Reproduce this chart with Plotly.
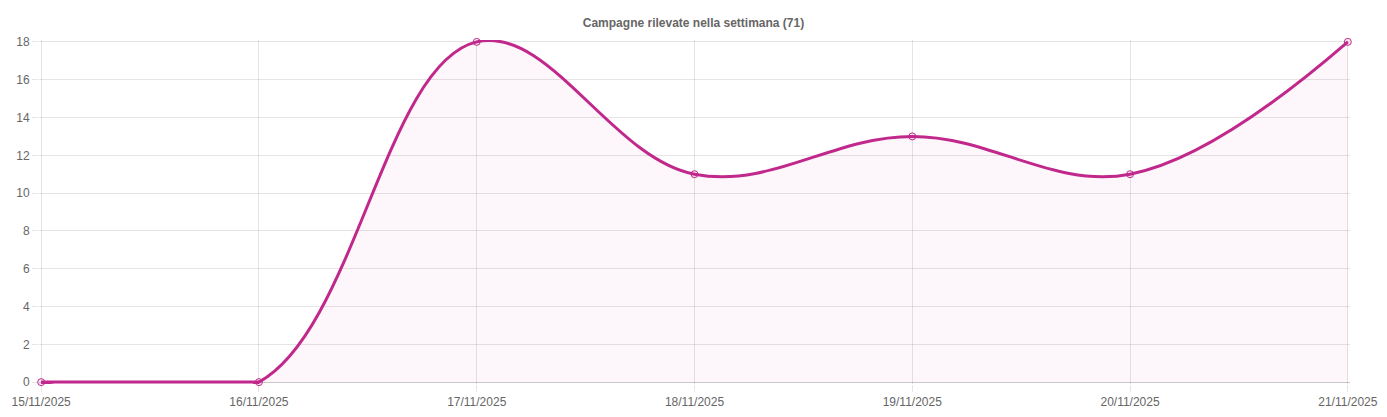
import plotly.graph_objects as go

dates = ["15/11/2025", "16/11/2025", "17/11/2025", "18/11/2025",
         "19/11/2025", "20/11/2025", "21/11/2025"]
campagne = [0, 0, 18, 11, 13, 11, 18]
y_ticks = [0, 2, 4, 6, 8, 10, 12, 14, 16, 18]
title_text = "Campagne rilevate nella settimana (%d)" % sum(campagne)

line_color = "#c1288b"
fill_color = "rgba(193,40,139,0.035)"
grid_color = "rgba(0,0,0,0.1)"
font_family = "Liberation Sans, Arial, Helvetica, sans-serif"

fig = go.Figure()
# smooth curve through every point
fig.add_trace(go.Scatter(
    x=dates, y=campagne,
    mode="lines",
    line=dict(color=line_color, width=3, shape="spline", smoothing=1.1),
    fill="tozeroy", fillcolor=fill_color,
    hoverinfo="skip",
))
# leading run of zero values drawn flat on the baseline
n_zero = 0
while n_zero < len(campagne) and campagne[n_zero] == 0:
    n_zero += 1
fig.add_trace(go.Scatter(
    x=dates[:n_zero], y=campagne[:n_zero],
    mode="lines",
    line=dict(color=line_color, width=3),
    hoverinfo="skip",
))
fig.add_trace(go.Scatter(
    x=dates, y=campagne,
    mode="markers",
    marker=dict(symbol="circle", size=7, color="rgba(193,40,139,0.08)",
                line=dict(color=line_color, width=1)),
    cliponaxis=False,
    hoverinfo="x+y",
))

fig.update_layout(
    width=1387, height=417,
    margin=dict(l=39, r=37, t=40, b=33),
    paper_bgcolor="white", plot_bgcolor="white",
    showlegend=False,
    font=dict(family=font_family, size=12, color="#666666"),
    title=dict(text="<b>" + title_text + "</b>", x=0.5, xanchor="center",
               xref="container", yref="container",
               y=1 - 23 / 417, yanchor="middle",
               font=dict(family=font_family, size=12, color="#666666")),
)
fig.update_xaxes(
    type="category", range=[-0.01, len(dates) - 1 + 0.01],
    showgrid=True, gridcolor=grid_color, gridwidth=1,
    ticks="outside", ticklen=7, tickcolor=grid_color,
    showline=False,
    tickfont=dict(size=12, color="#666666"),
    zeroline=False, fixedrange=True, automargin=False,
)
fig.update_yaxes(
    range=[-0.1, 18.1], tickvals=y_ticks,
    showgrid=True, gridcolor=grid_color, gridwidth=1,
    ticks="outside", ticklen=6, tickcolor=grid_color,
    showline=False,
    zeroline=True, zerolinecolor="rgba(0,0,0,0.22)", zerolinewidth=1,
    tickfont=dict(size=12, color="#666666"),
    fixedrange=True, automargin=False,
)

fig.write_html("out.html", config={"displayModeBar": False},
               post_script="document.body.style.margin='0';")
